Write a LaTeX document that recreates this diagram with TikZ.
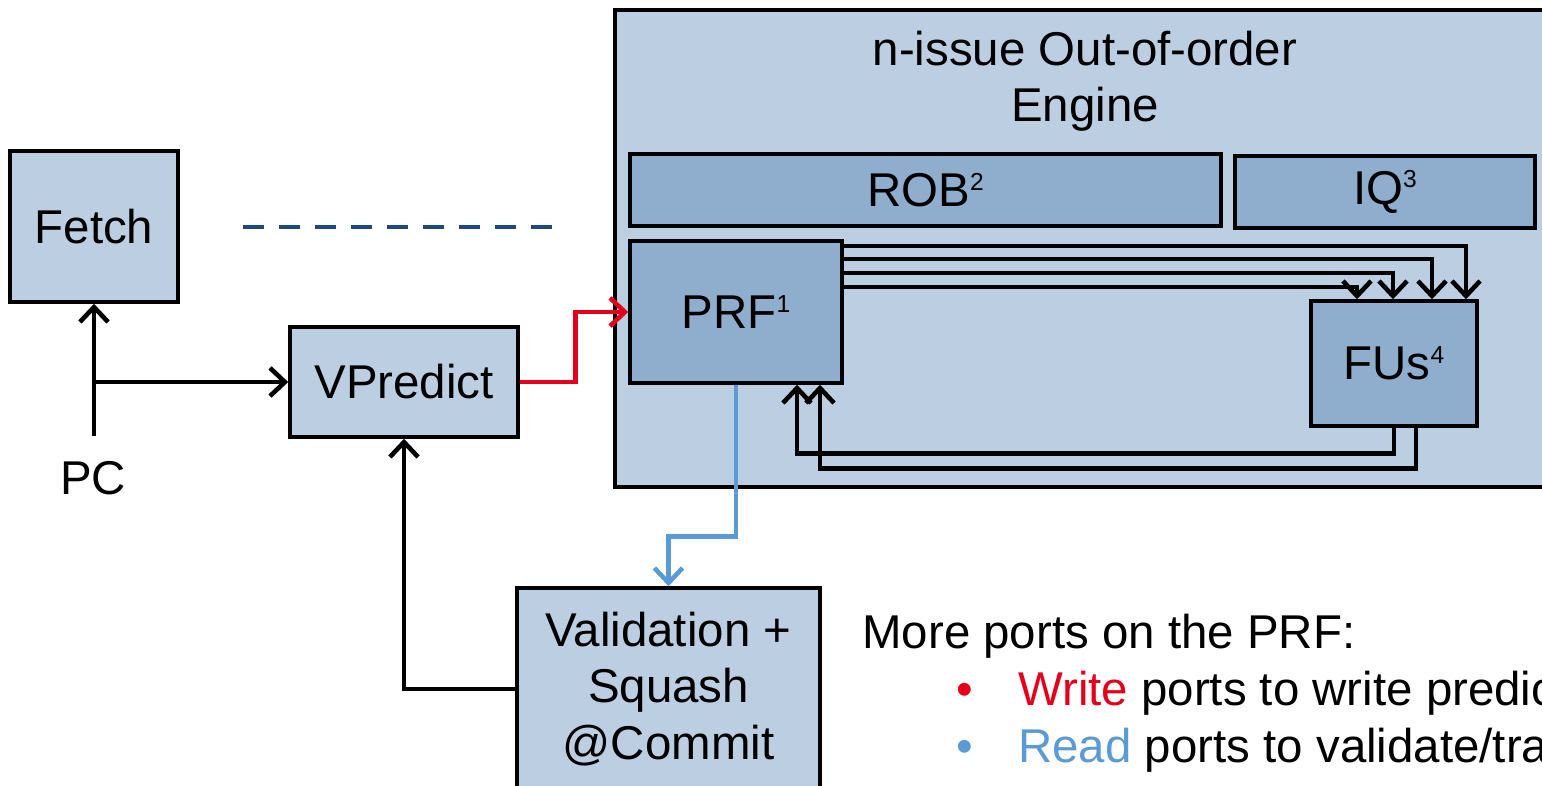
\documentclass[tikz,border=0pt]{standalone}
\usepackage{fontspec}
\setmainfont{Liberation Sans}
\usetikzlibrary{arrows.meta,calc}
\definecolor{lightbox}{RGB}{188,207,226}
\definecolor{darkbox}{RGB}{143,173,205}
\definecolor{dashblue}{RGB}{31,73,125}
\definecolor{wred}{RGB}{227,0,27}
\definecolor{rblue}{RGB}{91,155,213}
\newcommand{\supnum}[1]{\raisebox{9.3pt}{\fontsize{14}{14}\selectfont #1}}
\tikzset{
  box/.style={draw=black, line width=2pt, fill=lightbox, inner sep=0pt, font=\fontsize{27}{32}\selectfont},
  dbox/.style={box, fill=darkbox},
  conn/.style={line width=2.8pt, -{Straight Barb[length=8.5pt,width=16pt,line width=2.6pt]}},
  plain/.style={inner sep=0pt, font=\fontsize{27}{32}\selectfont},
}
\begin{document}
\begin{tikzpicture}[x=0.02cm,y=-0.02cm]
\useasboundingbox (0,0) rectangle (1542,785);
\clip (0,0) rectangle (1542,785);
% engine
\node[box, minimum width=19.7cm, minimum height=9.54cm] (eng) at (1107.5,248.5) {};
\node[plain, align=center] (title) at (1085,81) {n-issue Out-of-order\\Engine};
\node[dbox, minimum width=11.82cm, minimum height=1.44cm] (rob) at (925.5,190) {ROB\supnum{2}};
\node[dbox, minimum width=6cm, minimum height=1.44cm] (iq) at (1385,192) {IQ\supnum{3}};
\node[dbox, minimum width=4.24cm, minimum height=2.84cm] (prf) at (736,312) {PRF\supnum{1}};
\node[dbox, minimum width=3.32cm, minimum height=2.5cm] (fus) at (1394,363.5) {FUs\supnum{4}};
% front end
\node[box, minimum width=3.36cm, minimum height=3.02cm] (fetch) at (94,226.5) {Fetch};
\node[box, minimum width=4.56cm, minimum height=2.2cm] (vp) at (404,382) {VPredict};
\node[box, minimum width=6.06cm, minimum height=4.04cm, align=center] (val) at (668.5,689) {Validation +\\Squash\\@Commit};
\node[plain] (pc) at (93,478) {PC};
\coordinate (pcstart) at (fetch.south |- 0,436);
\coordinate (pcbranch) at (fetch.south |- 0,382);
% dashed
\draw[dashblue, line width=2.6pt, dash pattern=on 12pt off 8.5pt] (243,227) -- (557,227);
% connectors
\draw[conn] (pcstart) -- (fetch.south);
\draw[conn] (pcbranch) -- (vp.west);
\draw[conn, wred] (vp.east) -- ++(56,0) |- (prf.west);
\draw[conn, rblue] (prf.south) -- ++(0,152) -| (val.north);
\draw[conn] (val.west) -| (vp.south);
\draw[conn] (prf.east |- 0,246) -| ($(fus.north)+(72,0)$);
\draw[conn] (prf.east |- 0,259) -| ($(fus.north)+(38,0)$);
\draw[conn] (prf.east |- 0,273) -| ($(fus.north)+(-1,0)$);
\draw[conn] (prf.east |- 0,287) -| ($(fus.north)+(-37,0)$);
\draw[conn] (fus.south) -- ++(0,26) -| ($(prf.south)+(61,0)$);
\draw[conn] ($(fus.south)+(22,0)$) -- ++(0,41) -| ($(prf.south)+(84,0)$);
% text
\node[plain, anchor=base west] (more) at (862,648) {More ports on the PRF:};
\node[plain, anchor=base west, text=wred] (b1) at (956,705) {•};
\node[plain, anchor=base west] (t1) at (1018,705) {\textcolor{wred}{Write} ports to write predictions};
\node[plain, anchor=base west, text=rblue] (b2) at (956,762) {•};
\node[plain, anchor=base west] (t2) at (1018,762) {\textcolor{rblue}{Read} ports to validate/train};
\end{tikzpicture}
\end{document}
